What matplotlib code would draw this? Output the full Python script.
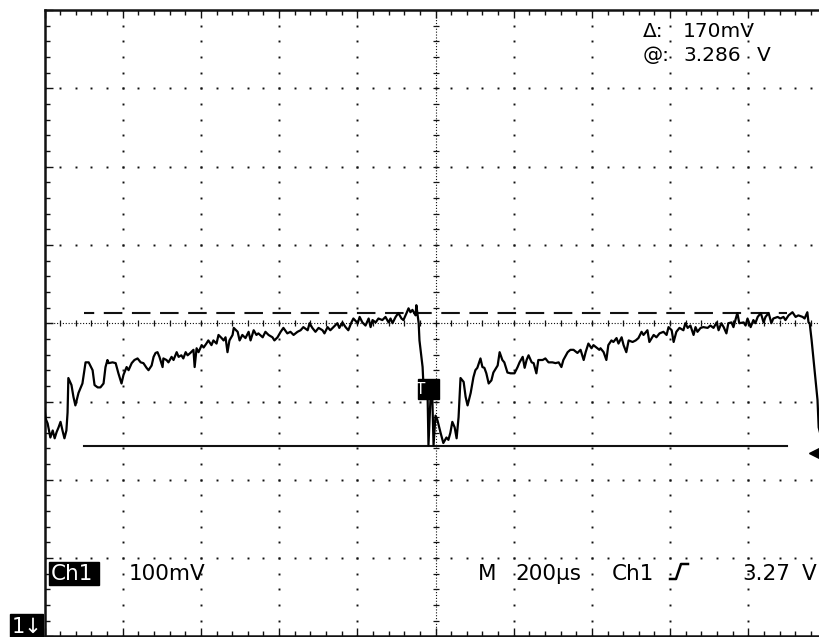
import numpy as np
import matplotlib
matplotlib.use("Agg")
import matplotlib.pyplot as plt
from matplotlib.patches import Rectangle
from matplotlib.lines import Line2D

# scope settings
us_per_div = 200
v_per_div = 0.1
center_v = 3.273
n_xdiv, n_ydiv = 10, 8

# cursors
cursor_top_v = 3.286
cursor_delta_v = 0.170
cursor_t = [-900, 900]

# trigger
trig_level_v = 3.107
trig_level_t = 972
trig_box_t = [-46, 8]
trig_box_v = [3.176, 3.2015]
trig_readout = "3.27"
ch1_scale = "100mV"
timebase = "200\u00b5s"

# trace (time in us, level in mV)
trace_t = [
    -1000, -997, -992, -985, -979, -974, -969, -964, -959, -954,
    -949, -944, -941, -939, -931, -926, -921, -913, -903, -895,
    -887, -877, -872, -864, -857, -849, -844, -839, -836, -826,
    -818, -811, -803, -798, -790, -785, -777, -770, -762, -754,
    -747, -739, -734, -726, -721, -716, -711, -706, -698, -696,
    -688, -683, -675, -670, -662, -657, -650, -645, -639, -634,
    -627, -619, -616, -611, -606, -598, -593, -586, -581, -573,
    -568, -560, -555, -547, -542, -537, -532, -527, -519, -516,
    -506, -501, -494, -486, -478, -473, -465, -458, -453, -442,
    -435, -427, -417, -412, -404, -396, -389, -379, -371, -363,
    -353, -345, -338, -327, -322, -315, -307, -299, -289, -284,
    -276, -269, -261, -251, -246, -238, -230, -223, -215, -210,
    -199, -194, -187, -179, -171, -166, -161, -153, -146, -136,
    -128, -120, -115, -110, -102, -95, -87, -82, -74, -69,
    -64, -59, -51, -49, -43, -41, -33, -31, -20, -18,
    -13, -8, -5, 0, 5, 13, 20, 28, 33, 38,
    43, 49, 54, 59, 64, 72, 77, 82, 90, 97,
    102, 107, 115, 120, 125, 130, 136, 143, 148, 159,
    164, 171, 176, 184, 192, 202, 210, 215, 223, 228,
    233, 238, 246, 251, 258, 263, 274, 281, 289, 299,
    307, 315, 322, 327, 338, 345, 353, 363, 371, 379,
    384, 391, 399, 404, 414, 419, 422, 430, 437, 442,
    450, 455, 463, 468, 476, 481, 488, 494, 504, 512,
    519, 527, 532, 542, 547, 558, 565, 573, 583, 591,
    596, 604, 609, 616, 624, 634, 639, 645, 652, 660,
    665, 670, 678, 685, 696, 703, 711, 719, 724, 731,
    737, 744, 749, 757, 762, 772, 777, 788, 793, 798,
    806, 813, 818, 824, 832, 839, 844, 852, 859, 864,
    875, 882, 890, 895, 903, 913, 921, 928, 939, 944,
    951, 954, 957, 962, 967, 972, 977, 980, 982, 990,
]
trace_mv = [
    3164, 3151, 3145, 3127, 3136, 3126, 3134, 3140, 3147, 3136,
    3126, 3136, 3159, 3203, 3194, 3179, 3168, 3184, 3196, 3223,
    3223, 3213, 3194, 3191, 3191, 3196, 3217, 3226, 3222, 3223,
    3222, 3209, 3196, 3207, 3217, 3213, 3222, 3226, 3228, 3223,
    3222, 3216, 3213, 3219, 3230, 3235, 3236, 3230, 3217, 3228,
    3226, 3223, 3230, 3226, 3236, 3230, 3232, 3228, 3236, 3232,
    3235, 3239, 3217, 3241, 3236, 3245, 3242, 3247, 3251, 3245,
    3251, 3247, 3258, 3254, 3251, 3255, 3236, 3251, 3258, 3267,
    3262, 3251, 3258, 3254, 3262, 3251, 3264, 3258, 3260, 3255,
    3262, 3258, 3255, 3251, 3255, 3262, 3267, 3260, 3262, 3258,
    3262, 3264, 3268, 3264, 3273, 3267, 3262, 3267, 3264, 3260,
    3268, 3264, 3268, 3273, 3267, 3274, 3268, 3264, 3274, 3279,
    3273, 3281, 3274, 3270, 3279, 3268, 3277, 3274, 3279, 3277,
    3281, 3274, 3279, 3273, 3281, 3286, 3279, 3277, 3286, 3292,
    3287, 3290, 3283, 3296, 3273, 3251, 3217, 3196, 3175, 3117,
    3175, 3175, 3117, 3155, 3149, 3133, 3120, 3127, 3124, 3133,
    3147, 3140, 3126, 3153, 3203, 3198, 3179, 3168, 3184, 3204,
    3213, 3216, 3228, 3217, 3216, 3209, 3196, 3200, 3210, 3219,
    3236, 3226, 3223, 3210, 3209, 3209, 3217, 3223, 3230, 3216,
    3226, 3232, 3223, 3222, 3209, 3226, 3226, 3228, 3223, 3223,
    3222, 3223, 3217, 3226, 3236, 3239, 3239, 3235, 3239, 3226,
    3236, 3247, 3241, 3245, 3241, 3239, 3241, 3236, 3226, 3245,
    3251, 3249, 3254, 3247, 3255, 3245, 3236, 3251, 3249, 3251,
    3254, 3262, 3258, 3264, 3249, 3258, 3255, 3260, 3262, 3258,
    3268, 3264, 3249, 3262, 3267, 3264, 3273, 3267, 3270, 3258,
    3268, 3262, 3267, 3268, 3267, 3270, 3267, 3274, 3264, 3273,
    3268, 3260, 3273, 3274, 3268, 3286, 3273, 3274, 3270, 3279,
    3268, 3277, 3273, 3281, 3286, 3274, 3281, 3286, 3273, 3279,
    3281, 3279, 3281, 3277, 3283, 3287, 3281, 3283, 3281, 3279,
    3287, 3274, 3273, 3251, 3226, 3200, 3175, 3140, 3136, 3120,
]

W, H = 819, 637
ink = "#111111"


def fx(px):
    return px / W


def fy(py):
    return 1 - py / H


fig = plt.figure(figsize=(W / 100, H / 100), dpi=100, facecolor="white")
# screen is 10 div wide, right edge falls just outside the picture
ax = fig.add_axes([fx(44.5), 0.6 / H, 782 / W, 626.4 / H])
half_t = us_per_div * n_xdiv / 2
ax.set_xlim(-half_t, half_t)
ax.set_ylim(center_v - v_per_div * n_ydiv / 2, center_v + v_per_div * n_ydiv / 2)

xmaj = np.arange(-half_t, half_t + 1, us_per_div)
xmin = np.arange(-half_t, half_t + 1, us_per_div / 5)
ymaj = center_v + np.arange(-n_ydiv // 2, n_ydiv // 2 + 1) * v_per_div
ymin = center_v + np.arange(-n_ydiv * 5 // 2, n_ydiv * 5 // 2 + 1) * v_per_div / 5

# dotted graticule
for x in xmaj[1:-1]:
    if np.isclose(x, 0):
        continue
    ax.plot(np.full_like(ymin, x), ymin, ls="none", marker="s", ms=1.4,
            mew=0, color=ink, zorder=1)
for y in ymaj[1:-1]:
    if np.isclose(y, center_v):
        continue
    ax.plot(xmin, np.full_like(xmin, y), ls="none", marker="s", ms=1.4,
            mew=0, color=ink, zorder=1)

# centre cross with minor ticks
ax.axvline(0, color=ink, lw=0.8, ls=(0, (1, 1.6)), zorder=1)
ax.axhline(center_v, color=ink, lw=0.8, ls=(0, (1, 1.6)), zorder=1)
ax.plot(xmin, np.full_like(xmin, center_v), ls="none", marker="|", ms=4,
        mew=0.9, color=ink, zorder=1)
ax.plot(np.zeros_like(ymin), ymin, ls="none", marker="_", ms=4,
        mew=0.9, color=ink, zorder=1)

# frame ticks
ax.set_xticks(xmaj)
ax.set_xticks(xmin, minor=True)
ax.set_yticks(ymaj)
ax.set_yticks(ymin, minor=True)
ax.tick_params(which="both", direction="in", top=True, bottom=True,
               left=True, right=False, labelbottom=False, labelleft=False,
               color=ink, width=1)
ax.tick_params(which="major", length=6)
ax.tick_params(which="minor", length=3.5)
for side in ["left", "top", "bottom"]:
    ax.spines[side].set_linewidth(1.8)
    ax.spines[side].set_color(ink)
ax.spines["right"].set_visible(False)

# cursors
ax.plot(cursor_t, [cursor_top_v] * 2, color=ink, lw=1.5,
        ls=(4.0, (8.9, 4.6)), zorder=2)
ax.plot(cursor_t, [cursor_top_v - cursor_delta_v] * 2, color=ink, lw=1.5,
        zorder=2)

# waveform
ax.plot(trace_t, np.array(trace_mv) / 1000, color="black", lw=1.6, zorder=3)

# trigger marker and level pointer
ax.add_patch(Rectangle((trig_box_t[0], trig_box_v[0]),
                       trig_box_t[1] - trig_box_t[0],
                       trig_box_v[1] - trig_box_v[0],
                       color="black", zorder=5))
ax.text(trig_box_t[0] + 9, sum(trig_box_v) / 2, "T", color="white",
        fontsize=11, ha="center", va="center", zorder=6)
ax.plot([trig_level_t], [trig_level_v], marker="<", ms=10, color="black",
        clip_on=False, zorder=6)

# readouts
fs_top = 14.5
fs_bot = 15.5
txt = dict(va="baseline")
fig.text(fx(643), fy(37), "\u0394:", fontsize=fs_top, **txt)
fig.text(fx(683), fy(37), f"{cursor_delta_v * 1000:.0f}mV", fontsize=fs_top,
         **txt)
fig.text(fx(643), fy(61), "@:", fontsize=fs_top, **txt)
fig.text(fx(683), fy(61), f"{cursor_top_v:.3f}", fontsize=fs_top, **txt)
fig.text(fx(757), fy(61), "V", fontsize=fs_top, **txt)

fig.add_artist(Rectangle((fx(49), fy(585)), 50 / W, 23 / H,
                         transform=fig.transFigure, color="black"))
fig.text(fx(51), fy(580), "Ch1", color="white", fontsize=fs_bot, **txt)
fig.text(fx(129), fy(580), ch1_scale, fontsize=fs_bot, **txt)
fig.text(fx(478), fy(580), "M", fontsize=fs_bot, **txt)
fig.text(fx(515), fy(580), timebase, fontsize=fs_bot, **txt)
fig.text(fx(612), fy(580), "Ch1", fontsize=fs_bot, **txt)
fig.add_artist(Line2D([fx(670), fx(676), fx(681), fx(688)],
                      [fy(579), fy(579), fy(564), fy(564)],
                      transform=fig.transFigure, color="black", lw=1.8))
fig.text(fx(742), fy(580), trig_readout, fontsize=fs_bot, **txt)
fig.text(fx(802), fy(580), "V", fontsize=fs_bot, **txt)

fig.add_artist(Rectangle((fx(10), 0), 33 / W, 23 / H,
                         transform=fig.transFigure, color="black"))
fig.text(fx(12), fy(633), "1\u2193", color="white", fontsize=15, **txt)

fig.savefig("out.png", dpi=100, facecolor="white")
